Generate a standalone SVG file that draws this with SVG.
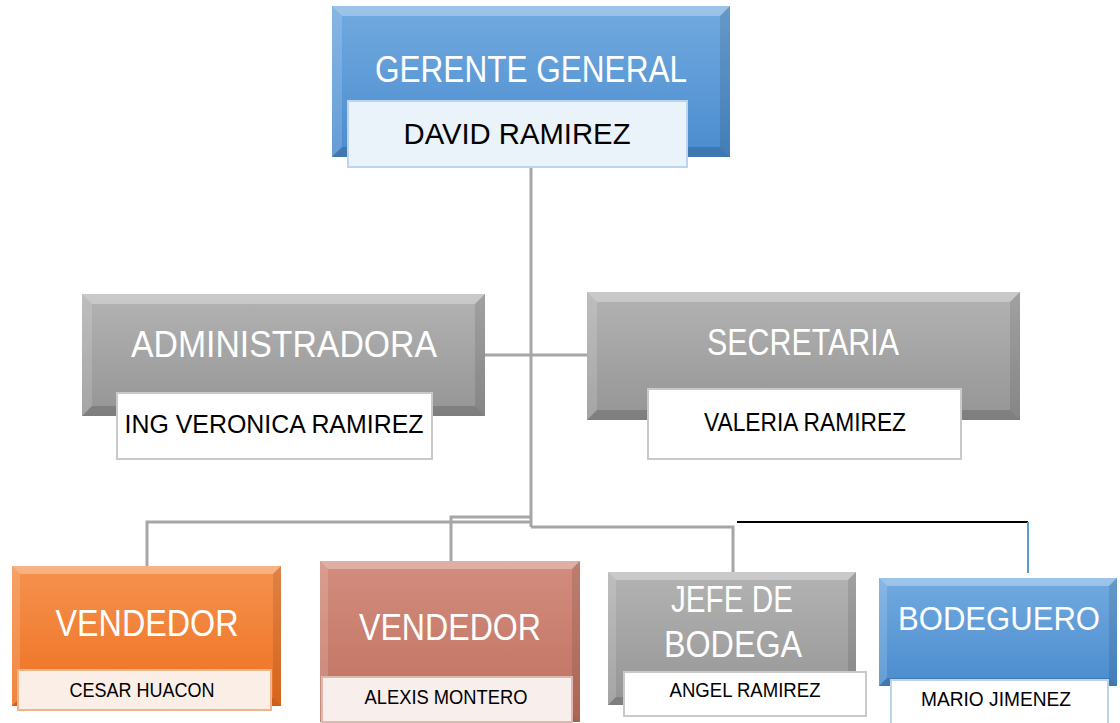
<svg xmlns="http://www.w3.org/2000/svg" width="1120" height="723" viewBox="0 0 1120 723">
<defs>
<linearGradient id="gBlue" x1="0" y1="0" x2="0" y2="1"><stop offset="0" stop-color="#72aadf"/><stop offset="1" stop-color="#4a8ccf"/></linearGradient>
<linearGradient id="gGray" x1="0" y1="0" x2="0" y2="1"><stop offset="0" stop-color="#b3b3b3"/><stop offset="1" stop-color="#959595"/></linearGradient>
<linearGradient id="gOrange" x1="0" y1="0" x2="0" y2="1"><stop offset="0" stop-color="#f5924e"/><stop offset="1" stop-color="#ee7020"/></linearGradient>
<linearGradient id="gSalmon" x1="0" y1="0" x2="0" y2="1"><stop offset="0" stop-color="#d28d7e"/><stop offset="1" stop-color="#c0705e"/></linearGradient>
</defs>
<style>
.bt{fill:#ffffff;opacity:.3}
.bl{fill:#ffffff;opacity:.15}
.br{fill:#000000;opacity:.1}
.bb{fill:#000000;opacity:.15}
.title{font-family:"Liberation Sans",Arial,sans-serif;fill:#ffffff;text-anchor:middle}
.name{font-family:"Liberation Sans",Arial,sans-serif;fill:#000000;text-anchor:middle}
.nb{stroke:#c9c9c9;stroke-width:2}
.conn{fill:none;stroke:#a6a6a6;stroke-width:3}
</style>
<rect width="1120" height="723" fill="#ffffff"/>
<g id="connectors">
<path class="conn" d="M531 167 V527"/>
<path class="conn" d="M485 355 H587"/>
<path class="conn" d="M147 566 V522 H531"/>
<path class="conn" d="M451 561 V517 H531"/>
<path class="conn" d="M531 527 H733 V572"/>
<path d="M737 522 H1028" fill="none" stroke="#000000" stroke-width="2"/>
<path d="M1028 522 V573" fill="none" stroke="#5b9bd5" stroke-width="2"/>
</g>
<g id="gerente">
<rect x="332" y="6" width="398" height="151" fill="url(#gBlue)"/>
<polygon class="bt" points="332,6 730,6 720,16 342,16"/>
<polygon class="bl" points="332,6 342,16 342,147 332,157"/>
<polygon class="br" points="730,6 730,157 720,147 720,16"/>
<polygon class="bb" points="332,157 730,157 720,147 342,147"/>
<rect x="348" y="101" width="339" height="66" fill="#eaf2fa" stroke="#bcd4ee" stroke-width="2"/>
<text class="title" x="531" y="82" font-size="37" textLength="312" lengthAdjust="spacingAndGlyphs">GERENTE GENERAL</text>
<text class="name" x="517" y="144" font-size="30" textLength="227" lengthAdjust="spacingAndGlyphs">DAVID RAMIREZ</text>
</g>
<g id="administradora">
<rect x="82" y="294" width="403" height="122" fill="url(#gGray)"/>
<polygon class="bt" points="82,294 485,294 475,304 92,304"/>
<polygon class="bl" points="82,294 92,304 92,406 82,416"/>
<polygon class="br" points="485,294 485,416 475,406 475,304"/>
<polygon class="bb" points="82,416 485,416 475,406 92,406"/>
<rect x="117" y="393" width="315" height="66" fill="#ffffff" class="nb"/>
<text class="title" x="284" y="357" font-size="37" textLength="306" lengthAdjust="spacingAndGlyphs">ADMINISTRADORA</text>
<text class="name" x="274" y="433" font-size="25" textLength="299" lengthAdjust="spacingAndGlyphs">ING VERONICA RAMIREZ</text>
</g>
<g id="secretaria">
<rect x="587" y="292" width="433" height="128" fill="url(#gGray)"/>
<polygon class="bt" points="587,292 1020,292 1010,302 597,302"/>
<polygon class="bl" points="587,292 597,302 597,410 587,420"/>
<polygon class="br" points="1020,292 1020,420 1010,410 1010,302"/>
<polygon class="bb" points="587,420 1020,420 1010,410 597,410"/>
<rect x="648" y="389" width="313" height="70" fill="#ffffff" class="nb"/>
<text class="title" x="803" y="355" font-size="37" textLength="192" lengthAdjust="spacingAndGlyphs">SECRETARIA</text>
<text class="name" x="805" y="431" font-size="25" textLength="202" lengthAdjust="spacingAndGlyphs">VALERIA RAMIREZ</text>
</g>
<g id="vendedor1">
<rect x="12" y="566" width="269" height="140" fill="url(#gOrange)"/>
<polygon class="bt" points="12,566 281,566 273,574 20,574"/>
<polygon class="bl" points="12,566 20,574 20,698 12,706"/>
<polygon class="br" points="281,566 281,706 273,698 273,574"/>
<polygon class="bb" points="12,706 281,706 273,698 20,698"/>
<rect x="18" y="670" width="253" height="40" fill="#fbeee7" stroke="#f0b48c" stroke-width="2"/>
<text class="title" x="147" y="636" font-size="37" textLength="183" lengthAdjust="spacingAndGlyphs">VENDEDOR</text>
<text class="name" x="142" y="697" font-size="20" textLength="145" lengthAdjust="spacingAndGlyphs">CESAR HUACON</text>
</g>
<g id="vendedor2">
<rect x="320" y="561" width="260" height="161" fill="url(#gSalmon)"/>
<polygon class="bt" points="320,561 580,561 572,569 328,569"/>
<polygon class="bl" points="320,561 328,569 328,714 320,722"/>
<polygon class="br" points="580,561 580,722 572,714 572,569"/>
<polygon class="bb" points="320,722 580,722 572,714 328,714"/>
<rect x="322" y="677" width="250" height="45" fill="#f8eeec" stroke="#dcb8af" stroke-width="2"/>
<text class="title" x="450" y="640" font-size="37" textLength="182" lengthAdjust="spacingAndGlyphs">VENDEDOR</text>
<text class="name" x="446" y="704" font-size="20" textLength="163" lengthAdjust="spacingAndGlyphs">ALEXIS MONTERO</text>
</g>
<g id="jefe-bodega">
<rect x="608" y="572" width="248" height="133" fill="url(#gGray)"/>
<polygon class="bt" points="608,572 856,572 848,580 616,580"/>
<polygon class="bl" points="608,572 616,580 616,697 608,705"/>
<polygon class="br" points="856,572 856,705 848,697 848,580"/>
<polygon class="bb" points="608,705 856,705 848,697 616,697"/>
<rect x="624" y="672" width="242" height="44" fill="#ffffff" class="nb"/>
<text class="title" x="732" y="612" font-size="37" textLength="122" lengthAdjust="spacingAndGlyphs">JEFE DE</text>
<text class="title" x="733" y="657" font-size="37" textLength="138" lengthAdjust="spacingAndGlyphs">BODEGA</text>
<text class="name" x="745" y="697" font-size="20" textLength="151" lengthAdjust="spacingAndGlyphs">ANGEL RAMIREZ</text>
</g>
<g id="bodeguero">
<rect x="879" y="578" width="238" height="108" fill="url(#gBlue)"/>
<polygon class="bt" points="879,578 1117,578 1109,586 887,586"/>
<polygon class="bl" points="879,578 887,586 887,678 879,686"/>
<polygon class="br" points="1117,578 1117,686 1109,678 1109,586"/>
<polygon class="bb" points="879,686 1117,686 1109,678 887,678"/>
<rect x="891" y="680" width="217" height="45" fill="#ffffff" stroke="#bcd4ee" stroke-width="2"/>
<text class="title" x="999" y="630" font-size="34" textLength="202" lengthAdjust="spacingAndGlyphs">BODEGUERO</text>
<text class="name" x="996" y="706" font-size="20" textLength="150" lengthAdjust="spacingAndGlyphs">MARIO JIMENEZ</text>
</g>
</svg>
